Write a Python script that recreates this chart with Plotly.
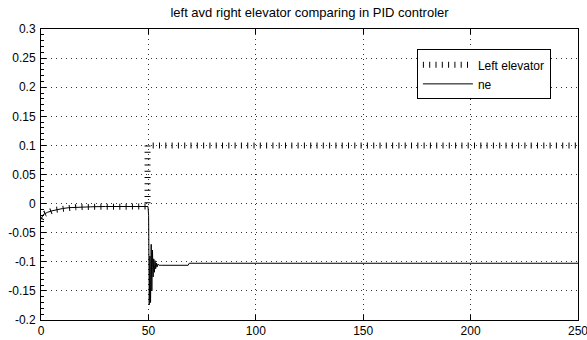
import plotly.graph_objects as go

# ---- data ----
t_left = [0, 0.5, 1, 2, 3, 5, 7, 10, 13, 16, 20, 25, 30, 40, 49.6, 49.6, 55, 100, 150, 200, 250]
left_elevator = [-0.026, -0.021, -0.019, -0.017, -0.015, -0.0125, -0.0105, -0.0085, -0.007,
                 -0.0063, -0.0057, -0.0053, -0.005, -0.005, -0.005, 0.1, 0.1, 0.1, 0.1, 0.1, 0.1]

t_ne = [0, 0.5, 1, 2, 3, 5, 7, 10, 13, 16, 20, 25, 30, 40, 49.8,
        50.1, 50.4, 50.7, 51.0, 51.3, 51.6, 51.9, 52.2, 52.5, 52.8, 53.1, 53.4, 53.7, 54.0,
        54.4, 55, 56, 68.5, 69, 100, 150, 200, 250]
ne = [-0.027, -0.021, -0.019, -0.017, -0.015, -0.0125, -0.0105, -0.0085, -0.007,
      -0.0063, -0.0057, -0.0053, -0.005, -0.005, -0.005,
      -0.02, -0.174, -0.09, -0.17, -0.07, -0.15, -0.08, -0.126, -0.095, -0.118, -0.098,
      -0.112, -0.102, -0.109,
      -0.104, -0.106, -0.106, -0.106, -0.1025, -0.1025, -0.1025, -0.1025, -0.1025]

x_ticks = [0, 50, 100, 150, 200, 250]
y_ticks = [-0.2, -0.15, -0.1, -0.05, 0, 0.05, 0.1, 0.15, 0.2, 0.25, 0.3]
y_ticktext = ['-0.2', '-0.15', '-0.1', '-0.05', '0', '0.05', '0.1', '0.15', '0.2', '0.25', '0.3']

title_text = "left avd right elevator comparing in PID controler"

FONT = "Liberation Sans, Arial, sans-serif"

fig = go.Figure()
fig.add_trace(go.Scatter(
    x=t_left, y=left_elevator, mode="lines", name="Left elevator",
    line=dict(color="black", width=6, dash="1px,5.3px"),
))
fig.add_trace(go.Scatter(
    x=t_ne, y=ne, mode="lines", name="ne",
    line=dict(color="black", width=1),
))

fig.update_layout(
    width=587, height=340,
    margin=dict(l=41, r=9, t=29, b=20),
    paper_bgcolor="white", plot_bgcolor="white",
    font=dict(family=FONT, size=12, color="black"),
    title=dict(text=title_text, x=0.5, xref="paper", y=1 - 12 / 340, yref="container",
               yanchor="middle", xanchor="center", font=dict(size=13, family=FONT)),
    showlegend=True,
    legend=dict(x=0.70, y=0.93, xanchor="left", yanchor="top",
                bgcolor="white", bordercolor="black", borderwidth=1,
                font=dict(size=12, family=FONT), itemwidth=50),
    xaxis=dict(range=[0, 250], tickvals=x_ticks, ticks="inside", ticklen=5,
               tickcolor="black", showline=True, linecolor="black", linewidth=1,
               mirror="ticks", showgrid=True, gridcolor="#333333", griddash="1px,4px",
               gridwidth=1, zeroline=False, tickfont=dict(size=12),
               automargin=False, ticklabeloverflow="allow"),
    yaxis=dict(range=[-0.2, 0.3], tickvals=y_ticks, ticktext=y_ticktext,
               ticks="inside", ticklen=5, tickcolor="black",
               showline=True, linecolor="black", linewidth=1, mirror=True,
               showgrid=True, gridcolor="#333333", griddash="1px,4px", gridwidth=1,
               zeroline=False, tickfont=dict(size=12), automargin=False,
               ticklabelstandoff=2,
               minor=dict(dtick=0.01, ticks="inside", ticklen=3, tickcolor="black",
                          showgrid=False)),
    yaxis2=dict(range=[-0.2, 0.3], tickvals=y_ticks, overlaying="y", side="right",
                ticks="inside", ticklen=5, tickcolor="black", showticklabels=False,
                showgrid=False, showline=False, zeroline=False, automargin=False),
)

fig.write_html("out.html",
               config={"displayModeBar": False},
               post_script="document.body.style.margin='0';document.body.style.overflow='hidden';")
